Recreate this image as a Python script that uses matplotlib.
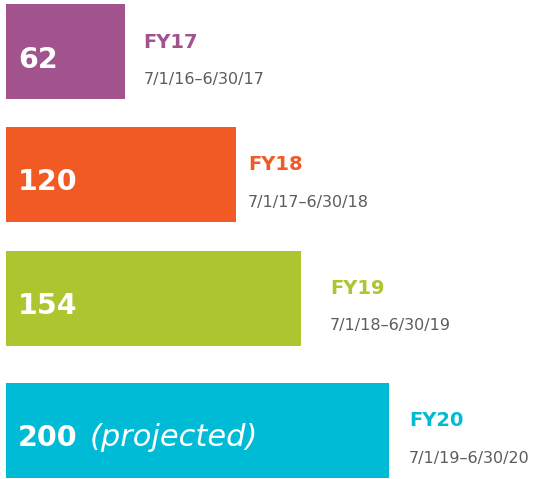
import matplotlib
matplotlib.use("Agg")
import matplotlib.pyplot as plt

# ---- data ----
fiscal_years = ["FY17", "FY18", "FY19", "FY20"]
date_ranges = ["7/1/16\u20136/30/17", "7/1/17\u20136/30/18",
               "7/1/18\u20136/30/19", "7/1/19\u20136/30/20"]
values = [62, 120, 154, 200]
value_notes = ["", "", "", "(projected)"]

# ---- style / layout ----
colors = ["#A2528C", "#F15A24", "#ADC52F", "#00BBD6"]
date_color = "#5C5C5C"
row_centers_px = [51.5, 174.5, 298.0, 430.5]
bar_height_px = 95
label_gap_px = [19, 12, 29, 20]
px_per_unit = 1.915
W, H = 539, 479

fig = plt.figure(figsize=(W / 100, H / 100), dpi=100)
left_px = 6
ax = fig.add_axes([left_px / W, 0, (W - left_px) / W, 1])
ax.set_xlim(0, (W - left_px) / px_per_unit)
ax.set_ylim(H, 0)
ax.axis("off")

ax.barh(row_centers_px, values, height=bar_height_px, color=colors, left=0)

for i, (fy, dr, v, note) in enumerate(zip(fiscal_years, date_ranges, values, value_notes)):
    yc = row_centers_px[i]
    t = ax.annotate(str(v), xy=(0, yc), xytext=(12, -16), textcoords="offset pixels",
                    fontsize=20.5, fontweight="bold", color="white",
                    ha="left", va="baseline", family="DejaVu Sans")
    if note:
        ax.annotate(note, xy=(1, 0), xycoords=t, xytext=(12, 1), textcoords="offset pixels",
                    fontsize=22, fontstyle="italic", color="white",
                    ha="left", va="bottom", family="DejaVu Sans")
    ax.annotate(fy, xy=(v, yc), xytext=(label_gap_px[i], 4), textcoords="offset pixels",
                fontsize=14, fontweight="bold", color=colors[i],
                ha="left", va="baseline", family="DejaVu Sans")
    ax.annotate(dr, xy=(v, yc), xytext=(label_gap_px[i], -32), textcoords="offset pixels",
                fontsize=11.5, color=date_color,
                ha="left", va="baseline", family="DejaVu Sans")

fig.savefig("out.png", dpi=100, facecolor="white")
